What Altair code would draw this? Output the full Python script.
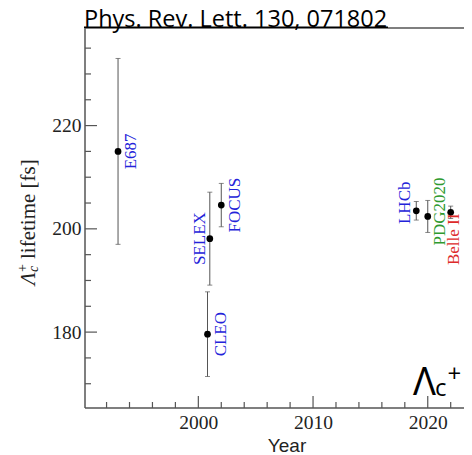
import altair as alt
import pandas as pd

# ---- data ----
experiments = ["E687", "SELEX", "FOCUS", "CLEO", "LHCb", "PDG2020", "Belle II"]
years = [1993, 2001, 2002, 2000.8, 2019, 2020, 2022]
lifetimes = [215.0, 198.1, 204.6, 179.6, 203.5, 202.4, 203.2]
errors = [18.0, 9.0, 4.2, 8.2, 1.8, 3.1, 1.2]
groups = ["exp", "exp", "exp", "exp", "exp", "avg", "belle"]

x_major = [2000, 2010, 2020]
x_minor = [1992, 1994, 1996, 1998, 2002, 2004, 2006, 2008, 2012, 2014,
           2016, 2018, 2022]
y_major = [180, 200, 220]
y_minor = [170, 175, 185, 190, 195, 205, 210, 215, 225, 230, 235]

df = pd.DataFrame({"exp": experiments, "year": years, "tau": lifetimes,
                   "err": errors, "grp": groups})
df["lo"] = df["tau"] - df["err"]
df["hi"] = df["tau"] + df["err"]

# ---- styling ----
W, H = 379, 380
FRAME = "#555555"
SERIF = "Liberation Serif"
xscale = alt.Scale(domain=[1990.12, 2023.16], nice=False, zero=False)
yscale = alt.Scale(domain=[165.3, 238.9], nice=False, zero=False)
xaxis = alt.Axis(values=x_major, format="d", ticks=False, domain=False, grid=False,
                 labelFont=SERIF, labelFontSize=19.5, labelColor="#222222",
                 labelPadding=5, title=None, labelFlush=False)
yaxis = alt.Axis(values=y_major, ticks=False, domain=False, grid=False,
                 labelFont=SERIF, labelFontSize=19.5, labelColor="#222222",
                 labelPadding=4, title=None)

def X(f):
    return alt.X(f, type="quantitative", scale=xscale, axis=xaxis)

def Y(f):
    return alt.Y(f, type="quantitative", scale=yscale, axis=yaxis)

base = alt.Chart(df)

bars = base.mark_rule(color="#555555", strokeWidth=1).encode(x=X("year"), y=Y("lo"), y2="hi")
cap_lo = base.mark_tick(orient="horizontal", size=5, thickness=1, color="#555555").encode(x=X("year"), y=Y("lo"))
cap_hi = base.mark_tick(orient="horizontal", size=5, thickness=1, color="#555555").encode(x=X("year"), y=Y("hi"))
pts = base.mark_circle(size=45, color="black", opacity=1).encode(x=X("year"), y=Y("tau"))

color_scale = alt.Scale(domain=["exp", "avg", "belle"], range=["#2323d9", "#2f9a2f", "#dd2a2a"])
# label placement: (along text / up, across / right) in px
label_offsets = {"E687": (0, 18), "SELEX": (0, -5), "FOCUS": (0, 18.3), "CLEO": (0, 18.6),
                 "LHCb": (8, -6.5), "PDG2020": (5, 17.3), "Belle II": (-27, 8.5)}
labels = []
for name, (ddx, ddy) in label_offsets.items():
    labels.append(
        base.transform_filter(alt.datum.exp == name)
        .mark_text(angle=270, align="center", baseline="alphabetic", dx=ddx, dy=ddy,
                   font=SERIF, fontSize=17)
        .encode(x=X("year"), y=Y("tau"), text="exp:N",
                color=alt.Color("grp:N", scale=color_scale, legend=None))
    )

one = alt.Data(values=[{}])

# frame: top, left, bottom (right edge lies outside the picture)
frame_top = alt.Chart(one).mark_rule(color=FRAME, strokeWidth=1.5).encode(
    x=alt.value(0), x2=alt.value(W), y=alt.value(0))
frame_left = alt.Chart(one).mark_rule(color=FRAME, strokeWidth=1.5).encode(
    x=alt.value(0), y=alt.value(0), y2=alt.value(H))
frame_bottom = alt.Chart(one).mark_rule(color=FRAME, strokeWidth=1.5).encode(
    x=alt.value(0), x2=alt.value(W), y=alt.value(H))

# inward ticks
yt_major = alt.Chart(pd.DataFrame({"v": y_major})).mark_rule(color=FRAME, strokeWidth=1.2).encode(
    y=Y("v"), x=alt.value(0), x2=alt.value(12))
yt_minor = alt.Chart(pd.DataFrame({"v": y_minor})).mark_rule(color=FRAME, strokeWidth=1.2).encode(
    y=Y("v"), x=alt.value(0), x2=alt.value(6))
xt_major = alt.Chart(pd.DataFrame({"v": x_major})).mark_rule(color=FRAME, strokeWidth=1.2).encode(
    x=X("v"), y=alt.value(H), y2=alt.value(H - 12))
xt_minor = alt.Chart(pd.DataFrame({"v": x_minor})).mark_rule(color=FRAME, strokeWidth=1.2).encode(
    x=X("v"), y=alt.value(H), y2=alt.value(H - 6))


def txt(text, x, y, **kw):
    return alt.Chart(one).mark_text(text=text, **kw).encode(x=alt.value(x), y=alt.value(y))

title = txt("Phys. Rev. Lett. 130, 071802", -1, -1.5, font="Open Sans", fontSize=23.5,
            align="left", baseline="alphabetic", color="black")
underline = alt.Chart(one).mark_rule(color="black", strokeWidth=1.5).encode(
    x=alt.value(-1), x2=alt.value(303), y=alt.value(-0.8))

# y-axis title  Λc+ lifetime [fs]
yt1 = txt("Λ", -50, 257, font=SERIF, fontSize=21, fontStyle="italic", angle=270,
          align="left", baseline="alphabetic", color="#222222")
yt2 = txt("+", -58, 244, font=SERIF, fontSize=14, angle=270,
          align="left", baseline="alphabetic", color="#222222")
yt3 = txt("c", -47, 244, font=SERIF, fontSize=14, fontStyle="italic", angle=270,
          align="left", baseline="alphabetic", color="#222222")
yt4 = txt("lifetime [fs]", -50, 231, font=SERIF, fontSize=21, angle=270,
          align="left", baseline="alphabetic", color="#222222")

# Λc+ annotation
l1 = txt("Λ", 328, 367, font="Open Sans", fontSize=38, align="left", baseline="alphabetic", color="black")
l2 = txt("c", 350, 368, font="Open Sans", fontSize=24, align="left", baseline="alphabetic", color="black")
l3 = txt("+", 362.5, 354, font="Open Sans", fontSize=24, align="left", baseline="alphabetic", color="black")

xtitle = txt("Year", 202, 424, font="Liberation Sans", fontSize=19, align="center",
             baseline="alphabetic", color="#222222")

chart = alt.layer(
    frame_top, frame_left, frame_bottom,
    yt_major, yt_minor, xt_major, xt_minor,
    bars, cap_lo, cap_hi, pts, *labels,
    title, underline, yt1, yt2, yt3, yt4, l1, l2, l3, xtitle
).properties(
    width=W, height=H,
    autosize=alt.AutoSizeParams(type="none"),
    padding={"left": 77, "top": 20, "right": 0, "bottom": 47},
).configure_view(stroke=None)

chart.save("out.html", embed_options={"renderer": "svg", "actions": False})
